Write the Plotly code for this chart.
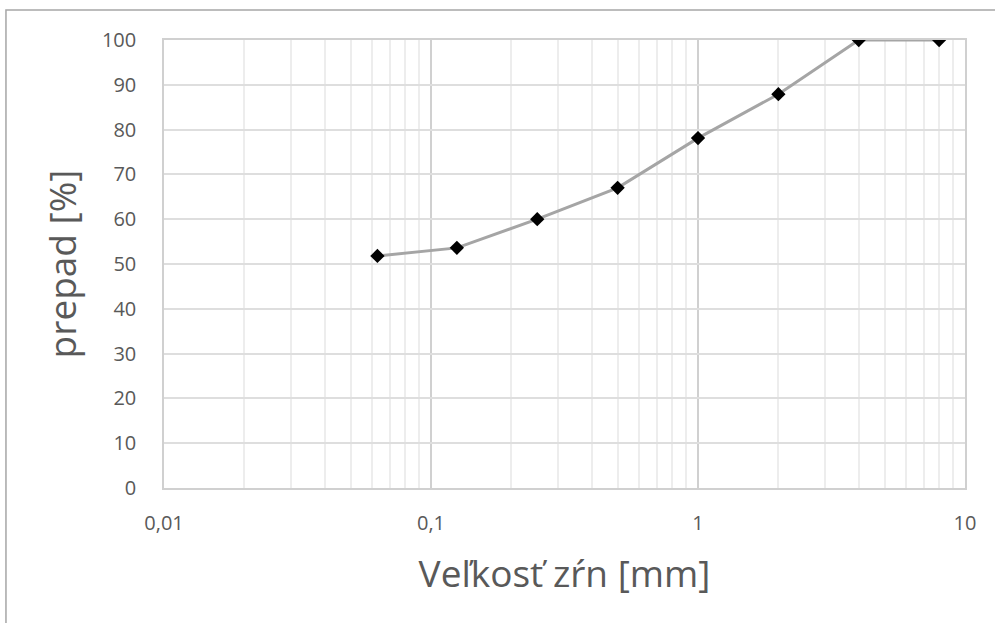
import plotly.graph_objects as go

grain_size = [0.063, 0.125, 0.25, 0.5, 1, 2, 4, 8]
passing = [51.8, 53.6, 60.0, 67.0, 78.1, 87.9, 100, 100]
x_tickvals = [0.01, 0.1, 1, 10]
x_ticktext = ["0,01", "0,1", "1", "10"]
x_minor = [m * d for d in (0.01, 0.1, 1) for m in range(2, 10)]
y_tickvals = list(range(0, 101, 10))

FONT = "Open Sans, sans-serif"
TXT = "#595959"

fig = go.Figure()
fig.add_trace(go.Scatter(
    x=grain_size, y=passing, mode="lines+markers",
    line=dict(color="#a5a5a5", width=3),
    marker=dict(symbol="diamond", size=11, color="black"),
    showlegend=False,
))

fig.update_layout(
    width=995, height=623,
    margin=dict(l=164, r=30, t=40, b=135),
    paper_bgcolor="white", plot_bgcolor="white",
    font=dict(family=FONT, color=TXT, size=20),
    xaxis=dict(
        type="log", range=[-2, 1],
        tickmode="array", tickvals=x_tickvals, ticktext=x_ticktext,
        tickfont=dict(family=FONT, size=20, color=TXT),
        showgrid=True, gridcolor="#d0d0d0", gridwidth=1.5,
        minor=dict(tickvals=x_minor, showgrid=True, gridcolor="#ededed", gridwidth=1.5, ticks=""),
        showline=True, linecolor="#d0d0d0", linewidth=1.5,
        ticks="", ticklabelstandoff=16,
        zeroline=False,
        title=dict(text="Veľkosť zŕn [mm]", font=dict(size=37, family=FONT, color=TXT), standoff=26),
        mirror=True,
    ),
    yaxis=dict(
        range=[0, 100], tickvals=y_tickvals,
        tickfont=dict(family=FONT, size=20, color=TXT),
        showgrid=True, gridcolor="#dedede", gridwidth=1.5,
        showline=True, linecolor="#d0d0d0", linewidth=1.5, mirror=True,
        ticks="", ticklabelstandoff=22,
        zeroline=False,
        title=dict(text="prepad [%]", font=dict(size=37, family=FONT, color=TXT), standoff=14),
    ),
    shapes=[dict(
        type="rect", xref="paper", yref="paper",
        x0=-0.1973, x1=1.2, y0=-0.6, y1=1.067,
        line=dict(color="#a6a6a6", width=1.5), layer="below",
    )],
)

fig.write_html("out.html")
